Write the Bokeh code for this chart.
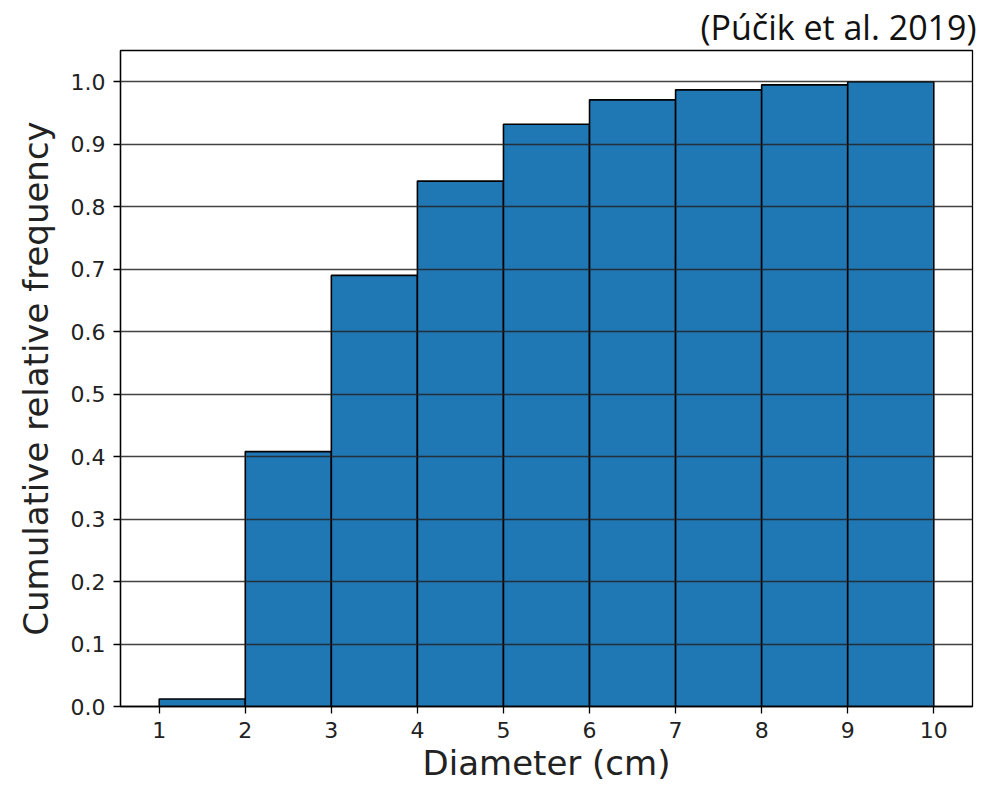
from bokeh.plotting import figure
from bokeh.embed import file_html
from bokeh.resources import INLINE
from bokeh.models import Range1d, FixedTicker, Title

# Data
bin_left = [1, 2, 3, 4, 5, 6, 7, 8, 9]
bin_right = [2, 3, 4, 5, 6, 7, 8, 9, 10]
cum_freq = [0.012, 0.408, 0.690, 0.841, 0.932, 0.971, 0.987, 0.995, 1.0]
x_ticks = [1, 2, 3, 4, 5, 6, 7, 8, 9, 10]
y_ticks = [0.0, 0.1, 0.2, 0.3, 0.4, 0.5, 0.6, 0.7, 0.8, 0.9, 1.0]
title_text = "(Púčik et al. 2019)"
x_label = "Diameter (cm)"
y_label = "Cumulative relative frequency"

p = figure(width=978, height=785, output_backend="svg", toolbar_location=None,
           x_range=Range1d(0.55, 10.45), y_range=Range1d(0, 1.05),
           min_border_left=120, min_border_right=6, min_border_top=48,
           min_border_bottom=70)

p.title = Title(text=title_text, align="right", text_font="Open Sans",
                text_font_size="34px", text_font_style="normal",
                text_color="#111111", offset=-4, standoff=2)

p.quad(left=bin_left, right=bin_right, bottom=0, top=cum_freq,
       fill_color="#1f77b4", line_color="black", line_width=1.6)

p.xgrid.visible = False
p.ygrid.level = "overlay"
p.ygrid.grid_line_color = "#222222"
p.ygrid.grid_line_width = 1.3
p.ygrid.grid_line_alpha = 0.85

p.outline_line_color = "black"
p.outline_line_width = 1.3
p.background_fill_color = "white"
p.border_fill_color = "white"

for ax in (p.xaxis[0], p.yaxis[0]):
    ax.major_tick_out = 7
    ax.major_tick_in = 0
    ax.minor_tick_line_color = None
    ax.major_tick_line_color = "black"
    ax.major_tick_line_width = 1.3
    ax.axis_line_color = "black"
    ax.axis_line_width = 1.3
    ax.major_label_text_font = "DejaVu Sans"
    ax.major_label_text_font_size = "22px"
    ax.major_label_text_color = "#222222"
    ax.axis_label_text_font = "DejaVu Sans"
    ax.axis_label_text_font_size = "34px"
    ax.axis_label_text_font_style = "normal"
    ax.axis_label_text_color = "#222222"
    ax.major_label_standoff = 8

p.xaxis[0].ticker = FixedTicker(ticks=x_ticks)
p.yaxis[0].ticker = FixedTicker(ticks=y_ticks)
p.yaxis[0].major_label_overrides = {t: f"{t:.1f}" for t in y_ticks}
p.xaxis[0].axis_label = x_label
p.yaxis[0].axis_label = y_label
p.xaxis[0].axis_label_standoff = 2
p.yaxis[0].axis_label_standoff = 12

open("out.html", "w").write(file_html(p, INLINE))
